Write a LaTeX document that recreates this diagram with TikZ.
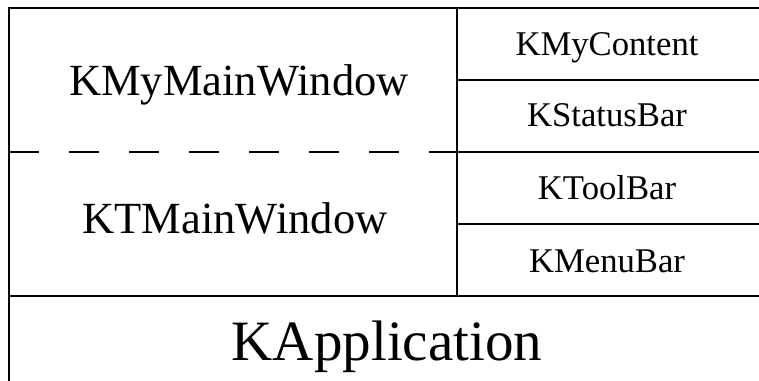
\documentclass[tikz,border=0pt]{standalone}
\usepackage{fontspec}
\setmainfont{Liberation Serif}
\usetikzlibrary{positioning}

\begin{document}
\begin{tikzpicture}[x=0.75pt,y=-0.75pt]
\tikzstyle{frame}=[line width=1.5pt]
\tikzstyle{gap}=[frame,dash pattern=on 22.5pt off 22.5pt]
\tikzstyle{bigname}=[anchor=base,inner sep=0pt,font=\fontsize{33.4}{40}\selectfont]
\tikzstyle{appname}=[anchor=base,inner sep=0pt,font=\fontsize{42.8}{50}\selectfont]
\tikzstyle{smallname}=[anchor=base,inner sep=0pt,font=\fontsize{26}{31}\selectfont]
\useasboundingbox (0,0) rectangle (759,381);
% grid corners
\coordinate (tl) at (9,8);
\coordinate (tr) at (759,8);
\coordinate (bl) at (9,381);
\coordinate (mt) at (457,8);
\coordinate (mb) at (457,296);
\draw [frame] (tr) -- (tl) -- (bl);
\draw [frame] (mt) -- (mb);
\draw [frame] (457,80) -- (759,80);
\draw [gap] (9,152) -- (457,152);
\draw [frame] (457,152) -- (759,152);
\draw [frame] (457,224) -- (759,224);
\draw [frame] (9,296) -- (759,296);
% names
\node [bigname] (mymain) at (239,96) {KMyMainWindow};
\node [bigname] (tmain) at (235,233) {KTMainWindow};
\node [appname] (app) at (387,360) {KApplication};
\node [smallname] (content) at (607,56) {KMyContent};
\node [smallname] (status) at (607,127) {KStatusBar};
\node [smallname] (toolbar) at (607,199) {KToolBar};
\node [smallname] (menubar) at (607,272) {KMenuBar};
\end{tikzpicture}
\end{document}
